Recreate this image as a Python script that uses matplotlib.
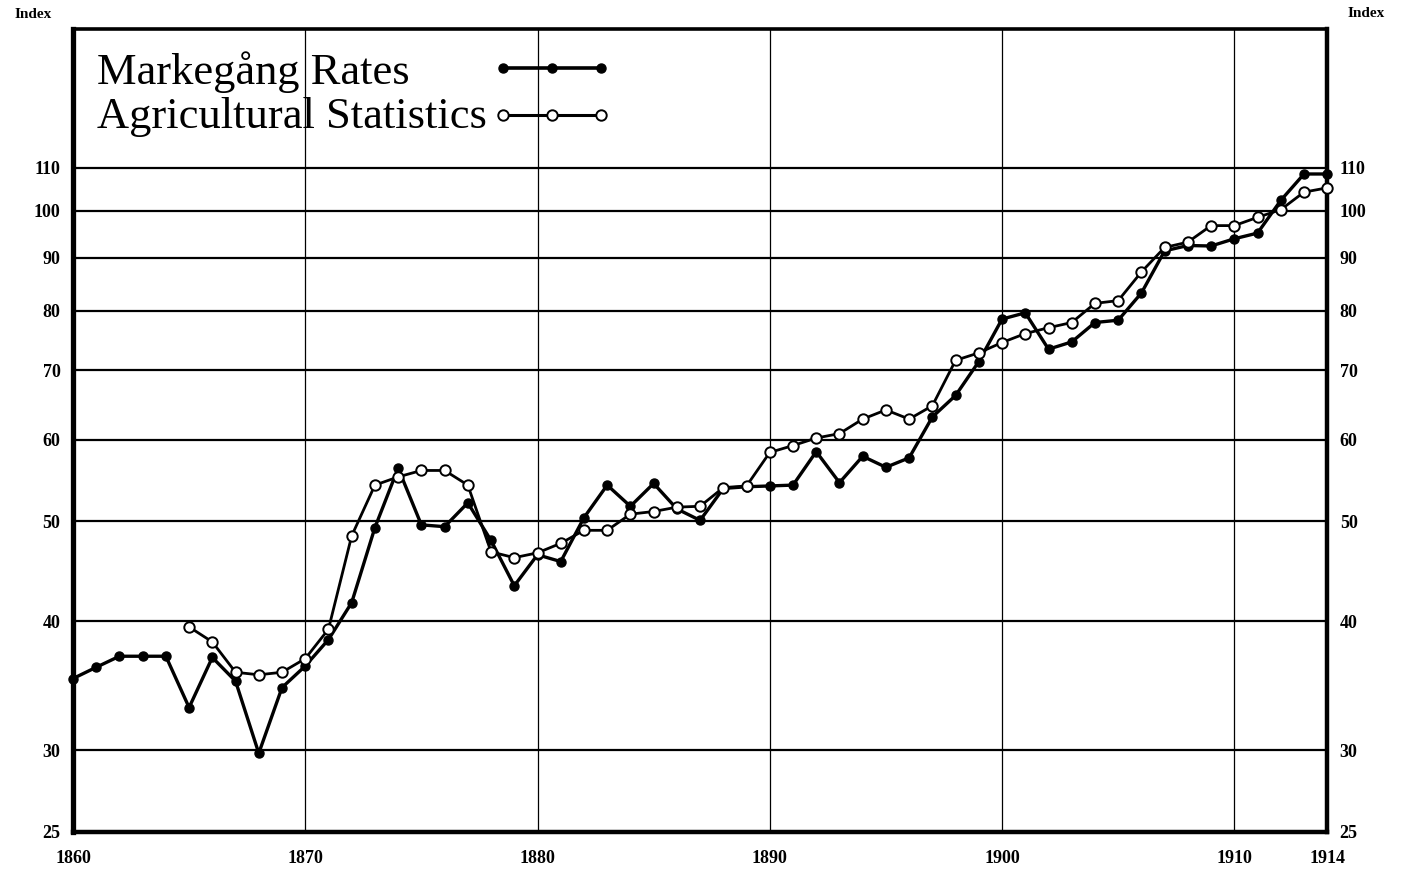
import matplotlib.pyplot as plt
from matplotlib.lines import Line2D
from matplotlib.ticker import NullLocator

plt.rcParams['font.family'] = ['Liberation Serif', 'DejaVu Serif']

# Index values (log scale)

years_m = list(range(1860, 1915))
markegang = [35.2, 36.1, 37.0, 37.0, 37.0, 33.0, 36.9, 35.0, 29.8, 34.5,
             36.2, 38.4, 41.7, 49.3, 56.3, 49.6, 49.4, 52.1, 47.9, 43.3,
             46.4, 45.7, 50.4, 54.2, 51.7, 54.4, 51.4, 50.1, 53.8, 54.0,
             54.1, 54.2, 58.4, 54.5, 57.8, 56.4, 57.6, 63.1, 66.2, 71.4,
             78.5, 79.6, 73.4, 74.6, 77.9, 78.3, 83.2, 91.4, 92.5, 92.4,
             93.9, 95.1, 102.3, 108.5, 108.5]

years_a = list(range(1865, 1915))
agri_stats = [39.5, 38.2, 35.7, 35.5, 35.7,
              36.8, 39.3, 48.4, 54.2, 55.2, 56.0, 56.0, 54.2, 46.7, 46.1,
              46.6, 47.6, 49.0, 49.0, 50.8, 51.1, 51.6, 51.7, 53.9, 54.1,
              58.3, 59.2, 60.2, 60.8, 62.8, 64.1, 62.8, 64.7, 71.6, 72.8,
              74.5, 76.0, 77.0, 77.9, 81.3, 81.8, 87.2, 92.1, 93.2, 96.7,
              96.7, 98.5, 100.2, 104.2, 105.2]

y_ticks = [25, 30, 40, 50, 60, 70, 80, 90, 100, 110]
x_ticks = [1860, 1870, 1880, 1890, 1900, 1910, 1914]

fig = plt.figure(figsize=(14.03, 8.73), dpi=100)
ax = fig.add_axes([0.052, 0.047, 0.894, 0.920])

ax.set_yscale('log')
ax.set_ylim(25, 150)
ax.set_xlim(1860, 1914)

ax.set_yticks(y_ticks)
ax.set_yticklabels([str(v) for v in y_ticks])
ax.yaxis.set_minor_locator(NullLocator())
ax.set_xticks(x_ticks)
ax.set_xticklabels([str(v) for v in x_ticks])

ax.tick_params(axis='both', length=0, labelsize=13)
ax.tick_params(axis='y', labelleft=True, labelright=True, pad=9)
ax.tick_params(axis='x', pad=13)
for lab in ax.get_xticklabels() + ax.get_yticklabels():
    lab.set_fontweight('bold')

ax.set_axisbelow(True)
ax.grid(axis='y', color='black', lw=1.6)
ax.grid(axis='x', color='black', lw=0.9)

for side, w in [('left', 3.8), ('bottom', 3.2), ('right', 3.2), ('top', 2.6)]:
    ax.spines[side].set_linewidth(w)
    ax.spines[side].set_capstyle('projecting')

ax.plot(years_m, markegang, color='black', lw=2.4, marker='o', ms=6.5,
        mfc='black', mec='black', clip_on=False, zorder=3)
ax.plot(years_a, agri_stats, color='black', lw=2.0, marker='o', ms=7.5,
        mfc='white', mec='black', mew=1.4, clip_on=False, zorder=4)

# Legend: labels as text, handles through a legend without text
ax.text(0.019, 0.9315, 'Markegång Rates', fontsize=32, va='baseline',
        transform=ax.transAxes)
ax.text(0.019, 0.8767, 'Agricultural Statistics', fontsize=32, va='baseline',
        transform=ax.transAxes)

h_m = Line2D([], [], color='black', lw=2.6, marker='o', ms=6.5, mfc='black')
h_a = Line2D([], [], color='black', lw=2.2, marker='o', ms=7.5, mfc='white',
             mec='black', mew=1.4)
ax.legend([h_m, h_a], ['', ''], loc='upper left',
          bbox_to_anchor=(0.3365, 0.9635), frameon=False, fontsize=20,
          numpoints=3, handlelength=4.1, handletextpad=0, borderpad=0,
          borderaxespad=0, labelspacing=0.77)

fig.text(0.0235, 0.983, 'Index', fontsize=11, fontweight='bold',
         ha='center', va='center')
fig.text(0.974, 0.985, 'Index', fontsize=11, fontweight='bold',
         ha='center', va='center')

fig.savefig('out.png', dpi=100)
